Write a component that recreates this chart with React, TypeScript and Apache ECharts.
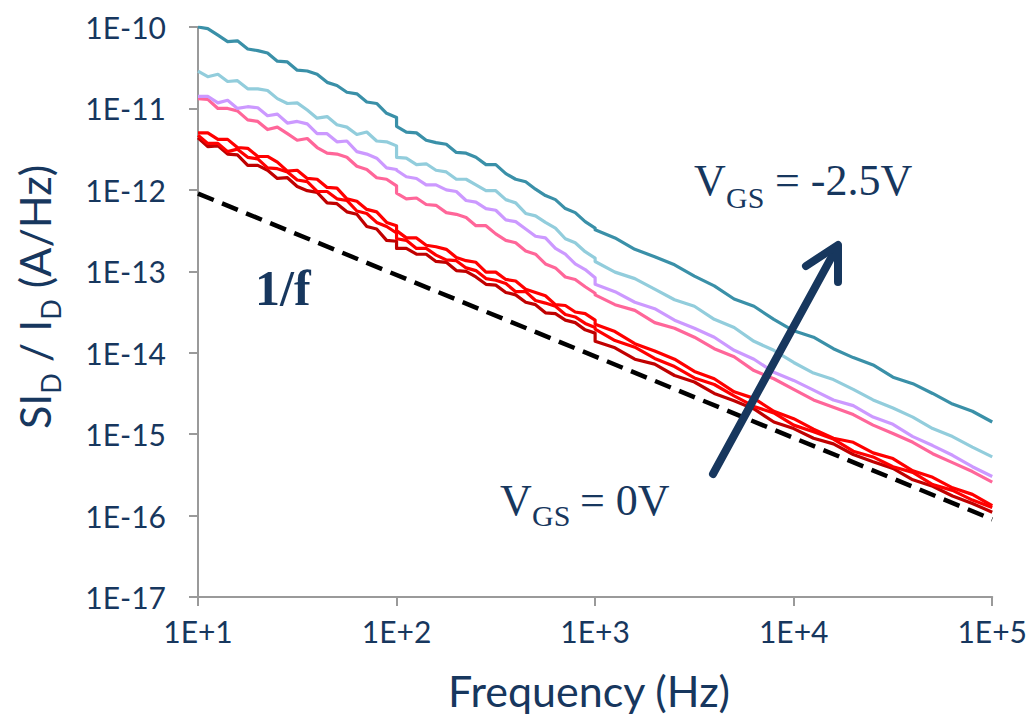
import { useEffect, useRef } from 'react';
import * as echarts from 'echarts';

// Frequency grid (Hz); 100 Hz and 1 kHz appear twice because each measurement range starts a new segment
const freq = [
  10, 11.2, 12.6, 14.1, 15.8, 17.8, 20, 22.4, 25.1, 28.2, 31.6, 35.5, 39.8, 44.7, 50.1, 56.2, 63.1, 70.8, 79.4, 89.1, 100,
  100, 112, 126, 141, 158, 178, 200, 224, 251, 282, 316, 355, 398, 447, 501, 562, 631, 708, 794, 891, 1000,
  1000, 1259, 1585, 1995, 2512, 3162, 3981, 5012, 6310, 7943, 10000, 12589, 15849, 19953, 25119, 31623, 39811, 50119, 63096, 79433, 100000,
];

// SI_D / I_D values (A/Hz)
const vgsM25 = [
  1.00e-10, 9.55e-11, 7.94e-11, 6.61e-11, 6.76e-11, 5.37e-11, 5.13e-11, 4.79e-11, 3.80e-11, 3.72e-11, 2.95e-11, 2.88e-11, 2.63e-11, 2.09e-11, 1.91e-11, 1.58e-11, 1.51e-11, 1.20e-11, 1.15e-11, 8.71e-12, 7.76e-12,
  6.03e-12, 5.13e-12, 5.01e-12, 4.07e-12, 3.80e-12, 3.63e-12, 2.88e-12, 2.82e-12, 2.51e-12, 2.04e-12, 2.04e-12, 1.58e-12, 1.35e-12, 1.26e-12, 1.02e-12, 8.51e-13, 7.59e-13, 5.89e-13, 5.25e-13, 4.07e-13, 3.39e-13,
  3.24e-13, 2.57e-13, 1.86e-13, 1.51e-13, 1.20e-13, 8.71e-14, 6.61e-14, 4.57e-14, 3.72e-14, 2.57e-14, 1.86e-14, 1.55e-14, 1.12e-14, 8.71e-15, 7.08e-15, 5.01e-15, 4.17e-15, 3.16e-15, 2.34e-15, 1.91e-15, 1.41e-15,
];
const vgsB = [
  2.88e-11, 2.45e-11, 2.63e-11, 2.14e-11, 2.19e-11, 1.74e-11, 1.74e-11, 1.66e-11, 1.32e-11, 1.15e-11, 1.17e-11, 9.55e-12, 7.59e-12, 7.94e-12, 6.31e-12, 5.89e-12, 4.79e-12, 5.13e-12, 3.98e-12, 3.89e-12, 3.47e-12,
  2.51e-12, 2.45e-12, 2.04e-12, 2.09e-12, 1.74e-12, 1.66e-12, 1.35e-12, 1.35e-12, 1.15e-12, 9.77e-13, 9.77e-13, 7.59e-13, 6.92e-13, 5.13e-13, 4.79e-13, 3.98e-13, 3.39e-13, 2.51e-13, 2.24e-13, 1.74e-13, 1.45e-13,
  1.32e-13, 9.77e-14, 8.13e-14, 6.03e-14, 4.47e-14, 3.72e-14, 2.57e-14, 2.04e-14, 1.38e-14, 1.07e-14, 7.59e-15, 5.62e-15, 4.68e-15, 3.55e-15, 2.63e-15, 2.09e-15, 1.62e-15, 1.17e-15, 9.33e-16, 6.92e-16, 5.25e-16,
];
const vgsC = [
  1.41e-11, 1.41e-11, 1.17e-11, 1.26e-11, 1.00e-11, 1.05e-11, 1.02e-11, 8.13e-12, 8.51e-12, 6.61e-12, 6.92e-12, 6.46e-12, 4.90e-12, 4.90e-12, 3.89e-12, 3.98e-12, 2.95e-12, 2.75e-12, 2.45e-12, 1.86e-12, 1.78e-12,
  1.74e-12, 1.45e-12, 1.38e-12, 1.15e-12, 1.15e-12, 1.00e-12, 9.55e-13, 7.41e-13, 7.08e-13, 5.89e-13, 5.62e-13, 4.27e-13, 4.07e-13, 3.31e-13, 2.69e-13, 2.57e-13, 1.91e-13, 1.62e-13, 1.23e-13, 1.05e-13, 8.32e-14,
  6.92e-14, 5.62e-14, 4.17e-14, 3.47e-14, 2.51e-14, 2.00e-14, 1.55e-14, 1.07e-14, 8.32e-15, 5.75e-15, 4.57e-15, 3.47e-15, 2.63e-15, 2.24e-15, 1.62e-15, 1.32e-15, 9.33e-16, 7.24e-16, 5.50e-16, 3.98e-16, 3.02e-16,
];
const vgsD = [
  1.32e-11, 1.29e-11, 1.00e-11, 1.00e-11, 9.33e-12, 7.24e-12, 6.92e-12, 5.50e-12, 5.89e-12, 4.90e-12, 4.07e-12, 4.27e-12, 3.31e-12, 2.82e-12, 2.75e-12, 2.51e-12, 1.95e-12, 1.78e-12, 1.41e-12, 1.35e-12, 1.12e-12,
  9.12e-13, 7.76e-13, 7.94e-13, 6.61e-13, 6.46e-13, 5.25e-13, 5.01e-13, 4.57e-13, 3.63e-13, 3.63e-13, 2.88e-13, 2.40e-13, 2.24e-13, 1.78e-13, 1.62e-13, 1.23e-13, 1.10e-13, 8.51e-14, 7.94e-14, 6.46e-14, 5.37e-14,
  5.13e-14, 3.89e-14, 3.31e-14, 2.34e-14, 2.00e-14, 1.55e-14, 1.12e-14, 8.91e-15, 6.03e-15, 4.79e-15, 3.55e-15, 2.63e-15, 2.14e-15, 1.74e-15, 1.29e-15, 1.02e-15, 7.94e-16, 5.75e-16, 4.47e-16, 3.47e-16, 2.57e-16,
];
const vgsE = [
  5.01e-12, 5.01e-12, 4.17e-12, 4.17e-12, 3.31e-12, 3.24e-12, 2.57e-12, 2.57e-12, 2.19e-12, 1.70e-12, 1.74e-12, 1.38e-12, 1.35e-12, 1.07e-12, 1.05e-12, 7.76e-13, 7.24e-13, 5.75e-13, 5.37e-13, 3.98e-13, 3.63e-13,
  3.16e-13, 2.57e-13, 2.57e-13, 2.09e-13, 2.00e-13, 1.86e-13, 1.48e-13, 1.35e-13, 1.29e-13, 9.77e-14, 9.77e-14, 7.94e-14, 7.59e-14, 6.03e-14, 5.50e-14, 5.01e-14, 3.89e-14, 3.80e-14, 3.16e-14, 3.02e-14, 2.51e-14,
  2.24e-14, 1.82e-14, 1.29e-14, 1.05e-14, 8.32e-15, 5.89e-15, 4.79e-15, 3.31e-15, 2.75e-15, 1.91e-15, 1.55e-15, 1.15e-15, 8.91e-16, 7.94e-16, 5.89e-16, 5.01e-16, 3.55e-16, 2.95e-16, 2.19e-16, 1.82e-16, 1.32e-16,
];
const vgsF = [
  4.68e-12, 3.72e-12, 3.72e-12, 2.95e-12, 3.16e-12, 2.51e-12, 2.40e-12, 1.86e-12, 1.82e-12, 1.66e-12, 1.32e-12, 1.26e-12, 9.55e-13, 9.55e-13, 7.76e-13, 7.41e-13, 5.50e-13, 5.13e-13, 3.98e-13, 3.55e-13, 2.95e-13,
  2.51e-13, 2.40e-13, 1.91e-13, 1.91e-13, 1.58e-13, 1.38e-13, 1.35e-13, 1.10e-13, 1.02e-13, 8.13e-14, 7.76e-14, 7.08e-14, 5.62e-14, 5.62e-14, 4.37e-14, 4.07e-14, 3.72e-14, 2.95e-14, 2.75e-14, 2.29e-14, 2.04e-14,
  1.95e-14, 1.41e-14, 1.17e-14, 8.51e-15, 6.76e-15, 4.90e-15, 4.07e-15, 2.95e-15, 2.19e-15, 1.82e-15, 1.29e-15, 1.07e-15, 8.71e-16, 6.17e-16, 5.25e-16, 3.98e-16, 3.39e-16, 2.40e-16, 2.04e-16, 1.55e-16, 1.26e-16,
];
const vgs0 = [
  4.37e-12, 3.39e-12, 3.47e-12, 2.75e-12, 2.69e-12, 2.00e-12, 2.00e-12, 1.74e-12, 1.38e-12, 1.41e-12, 1.10e-12, 9.77e-13, 9.33e-13, 6.92e-13, 6.76e-13, 5.37e-13, 5.01e-13, 3.55e-13, 3.31e-13, 2.40e-13, 2.34e-13,
  1.91e-13, 1.91e-13, 1.62e-13, 1.62e-13, 1.32e-13, 1.29e-13, 1.02e-13, 1.00e-13, 8.51e-14, 6.92e-14, 6.76e-14, 5.50e-14, 5.13e-14, 4.17e-14, 3.89e-14, 3.09e-14, 3.02e-14, 2.51e-14, 2.34e-14, 1.91e-14, 1.74e-14,
  1.38e-14, 1.15e-14, 8.32e-15, 7.24e-15, 5.25e-15, 4.37e-15, 3.16e-15, 2.57e-15, 2.04e-15, 1.41e-15, 1.17e-15, 8.91e-16, 7.59e-16, 5.62e-16, 4.57e-16, 3.80e-16, 2.75e-16, 2.29e-16, 1.74e-16, 1.41e-16, 1.10e-16,
];

// 1/f reference line
const refFreq = [10, 100000];
const refVals = [9.0e-13, 9.0e-17];

const NAVY = '#17375E';
const AXIS = '#9a9a9a';

const measure = (text: string, font: string) => {
  const ctx = document.createElement('canvas').getContext('2d');
  if (!ctx) return text.length * 20;
  ctx.font = font;
  return ctx.measureText(text).width;
};

export default function App() {
  const ref = useRef<HTMLDivElement>(null);

  useEffect(() => {
    if (!ref.current) return;
    const chart = echarts.init(ref.current, null, { renderer: 'svg' });

    const line = (name: string, vals: number[], color: string) => ({
      type: 'line',
      name,
      data: freq.map((f, i) => [f, vals[i]]),
      showSymbol: false,
      symbol: 'none',
      silent: true,
      lineStyle: { color, width: 3.2, join: 'round' },
      itemStyle: { color },
    });

    // y-axis title with subscripts, built from pieces
    const mainFont = '43px Lato';
    const subFont = '27px Lato';
    const parts: [string, boolean][] = [['SI', false], ['D', true], [' / I', false], ['D', true], [' (A/Hz)', false]];
    const widths = parts.map(([t, s]) => measure(t, s ? subFont : mainFont));
    const total = widths.reduce((a, b) => a + b, 0);
    let acc = 0;
    const titleChildren = parts.map(([t, s], i) => {
      const el = {
        type: 'text',
        x: acc,
        y: s ? 16 : 0,
        style: { text: t, font: s ? subFont : mainFont, fill: NAVY, align: 'left', verticalAlign: 'middle' },
      };
      acc += widths[i];
      return el;
    });

    const serif = '"Liberation Serif", "Times New Roman", serif';

    const option = {
      animation: false,
      backgroundColor: '#ffffff',
      grid: { left: 198, top: 27, width: 797, height: 570 },
      xAxis: {
        type: 'log',
        logBase: 10,
        min: 10,
        max: 100000,
        interval: 1,
        axisLine: { show: true, lineStyle: { color: AXIS, width: 2 } },
        axisTick: { show: true, length: 9, lineStyle: { color: AXIS, width: 2 } },
        minorTick: { show: false },
        splitLine: { show: false },
        axisLabel: {
          margin: 19,
          color: NAVY,
          fontFamily: 'Lato',
          fontSize: 30,
          formatter: (v: number) => `1E+${Math.round(Math.log10(v))}`,
        },
      },
      yAxis: {
        type: 'log',
        logBase: 10,
        min: 1e-17,
        max: 1e-10,
        interval: 1,
        axisLine: { show: true, lineStyle: { color: AXIS, width: 2 } },
        axisTick: { show: true, length: 9, lineStyle: { color: AXIS, width: 2 } },
        minorTick: { show: false },
        splitLine: { show: false },
        axisLabel: {
          margin: 32,
          color: NAVY,
          fontFamily: 'Lato',
          fontSize: 30,
          formatter: (v: number) => `1E${Math.round(Math.log10(v))}`,
        },
      },
      series: [
        line('VGS = 0V', vgs0, '#C00000'),
        line('VGS step F', vgsF, '#FF0000'),
        line('VGS step E', vgsE, '#FF0000'),
        line('VGS step D', vgsD, '#FF6699'),
        line('VGS step C', vgsC, '#CC99FF'),
        line('VGS step B', vgsB, '#92CDDC'),
        line('VGS = -2.5V', vgsM25, '#3A90A8'),
        {
          type: 'line',
          name: '1/f',
          data: refFreq.map((f, i) => [f, refVals[i]]),
          showSymbol: false,
          symbol: 'none',
          silent: true,
          lineStyle: { color: '#000000', width: 4.5, type: [17, 9] },
          z: 5,
        },
      ],
      graphic: [
        {
          type: 'text',
          x: 589,
          y: 690,
          style: { text: 'Frequency (Hz)', font: mainFont, fill: NAVY, align: 'center', verticalAlign: 'middle' },
        },
        {
          type: 'group',
          x: 34,
          y: 297 + total / 2,
          rotation: Math.PI / 2,
          children: titleChildren,
        },
        {
          type: 'text',
          x: 255,
          y: 288,
          style: { text: '1/f', font: `bold 50px ${serif}`, fill: NAVY, align: 'left', verticalAlign: 'middle' },
        },
        { type: 'text', x: 694, y: 180, style: { text: 'V', font: `44px ${serif}`, fill: NAVY, verticalAlign: 'middle' } },
        { type: 'text', x: 726, y: 197, style: { text: 'GS', font: `30px ${serif}`, fill: NAVY, verticalAlign: 'middle' } },
        { type: 'text', x: 775, y: 180, style: { text: '= -2.5V', font: `44px ${serif}`, fill: NAVY, verticalAlign: 'middle' } },
        { type: 'text', x: 500, y: 500, style: { text: 'V', font: `44px ${serif}`, fill: NAVY, verticalAlign: 'middle' } },
        { type: 'text', x: 532, y: 515, style: { text: 'GS', font: `30px ${serif}`, fill: NAVY, verticalAlign: 'middle' } },
        { type: 'text', x: 580, y: 500, style: { text: '= 0V', font: `44px ${serif}`, fill: NAVY, verticalAlign: 'middle' } },
        {
          type: 'line',
          shape: { x1: 713, y1: 474, x2: 836, y2: 249 },
          style: { stroke: NAVY, lineWidth: 8, lineCap: 'round' },
          z: 10,
        },
        {
          type: 'polyline',
          shape: { points: [[806, 266], [838, 245], [838, 282]] },
          style: { stroke: NAVY, lineWidth: 8, lineCap: 'round', lineJoin: 'round', fill: null },
          z: 10,
        },
      ],
    };

    chart.setOption(option as any);
    return () => chart.dispose();
  }, []);

  return (
    <div
      ref={ref}
      style={{ position: 'fixed', left: 0, top: 0, width: 1030, height: 715, background: '#ffffff' }}
    />
  );
}
